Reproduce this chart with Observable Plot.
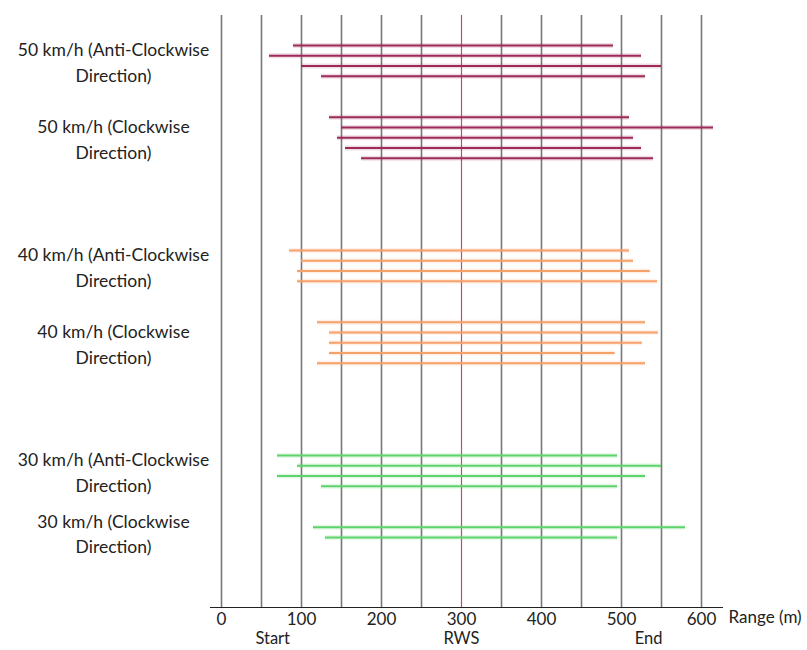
<!DOCTYPE html>
<html><head><meta charset="utf-8">
<script src="https://cdn.jsdelivr.net/npm/d3@7"></script>
<script src="https://cdn.jsdelivr.net/npm/@observablehq/plot@0.6"></script>
<style>body{margin:0;background:#fff;}</style>
</head><body><div id="chart"></div>
<script>
// ---- data ----
const groupLabels = [
  "50 km/h (Anti-Clockwise\nDirection)",
  "50 km/h (Clockwise\nDirection)",
  "40 km/h (Anti-Clockwise\nDirection)",
  "40 km/h (Clockwise\nDirection)",
  "30 km/h (Anti-Clockwise\nDirection)",
  "30 km/h (Clockwise\nDirection)"
];
const groupSpeeds = [50, 50, 40, 40, 30, 30];
const runStarts = [
  [90, 60, 100, 125],
  [135, 150, 145, 155, 175],
  [85, 100, 95, 95],
  [120, 135, 135, 135, 120],
  [70, 95, 70, 125],
  [115, 130]
];
const runEnds = [
  [490, 525, 550, 530],
  [510, 615, 515, 525, 540],
  [510, 515, 536, 545],
  [530, 546, 526, 492, 530],
  [495, 550, 530, 495],
  [580, 495]
];
const xTickValues = [0, 100, 200, 300, 400, 500, 600];
const gridValues = [0, 50, 100, 150, 200, 250, 300, 350, 400, 450, 500, 550, 600];
const landmarkNames = ["Start", "RWS", "End"];
const landmarkRange = [64, 300, 534];
const speedDomain = [50, 40, 30];
const speedColors = ["#9e2a5a", "#f6a06a", "#5fd36b"];

// ---- build tables (row slots with gaps between groups) ----
const rows = [];
const labels = [];
let slot = 0;
groupLabels.forEach((lab, g) => {
  const first = slot;
  runStarts[g].forEach((s, i) => {
    rows.push({group: lab, speed: groupSpeeds[g], slot, x1: s, x2: runEnds[g][i]});
    slot += 1;
  });
  labels.push({label: lab, y: (first + slot - 1) / 2});
  if (g < groupLabels.length - 1) {
    slot += (groupSpeeds[g + 1] === groupSpeeds[g]) ? 3 : 8;
  }
});
const landmarks = landmarkNames.map((n, i) => ({name: n, x: landmarkRange[i]}));

const font = "Lato, 'Open Sans', sans-serif";

const chart = Plot.plot({
  width: 807,
  height: 650,
  marginLeft: 210,
  marginRight: 85,
  marginTop: 15,
  marginBottom: 43,
  style: {fontFamily: font, fontSize: "17px", color: "#222", background: "#fff"},
  x: {domain: [0, 600], insetLeft: 11, insetRight: 21, ticks: xTickValues, tickSize: 0, tickPadding: 5, label: null, line: true},
  y: {domain: [0, slot - 1], reverse: true, insetTop: 30, insetBottom: 70, axis: null},
  color: {domain: speedDomain, range: speedColors},
  marks: [
    Plot.ruleX(gridValues, {x: d => d, stroke: d => d === 300 ? "#b8506e" : "#777", strokeWidth: d => d === 300 ? 1.2 : 1.6}),
    Plot.ruleY(rows, {x1: "x1", x2: "x2", y: "slot", stroke: "speed", strokeWidth: 5, strokeOpacity: 0.16}),
    Plot.ruleY(rows, {x1: "x1", x2: "x2", y: "slot", stroke: "speed", strokeWidth: 2.2}),
    Plot.text(labels, {y: "y", text: "label", frameAnchor: "left", dx: -97, textAnchor: "middle", lineHeight: 1.45, fontSize: 17.5, fill: "#222"}),
    Plot.text(landmarks, {x: "x", text: "name", frameAnchor: "bottom", dy: 36.5, fontSize: 16.5, fill: "#222"}),
    Plot.text(["Range (m)"], {text: d => d, frameAnchor: "bottom-right", textAnchor: "start", dx: 6, dy: 15, fontSize: 17, fill: "#222"})
  ]
});
document.getElementById("chart").appendChild(chart);
</script>
</body></html>
